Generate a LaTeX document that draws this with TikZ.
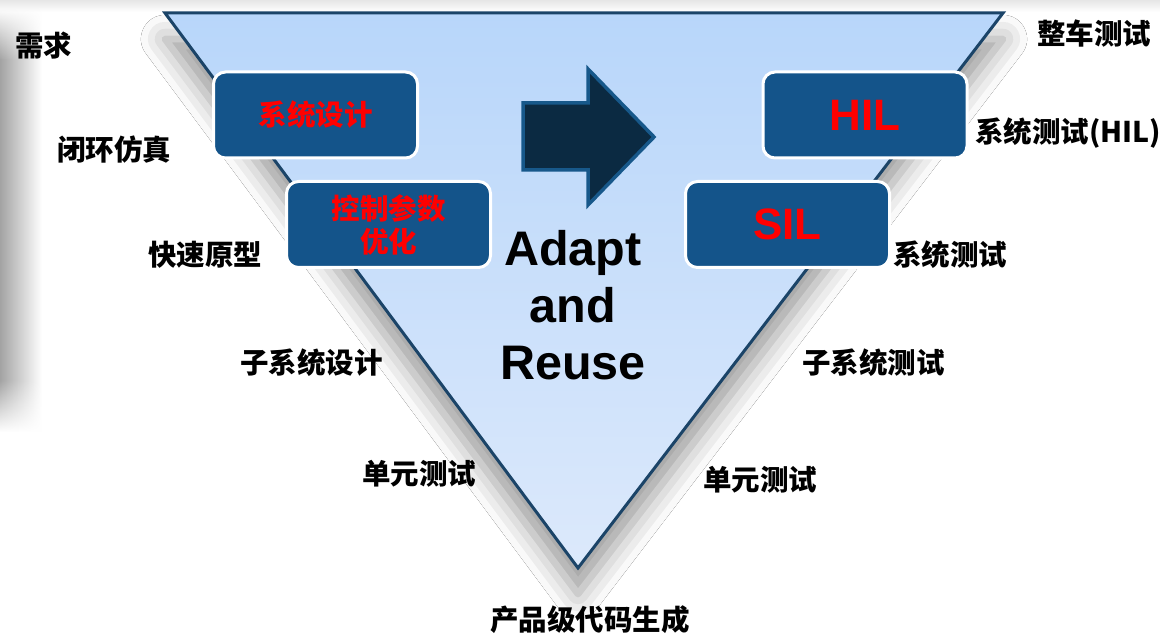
\documentclass[tikz,border=0pt]{standalone}
\usepackage{fontspec}
\setmainfont{Liberation Sans}
\newfontfamily\cjk{Noto Sans CJK SC}
\usetikzlibrary{shadows.blur,fadings}
\definecolor{tritop}{HTML}{B8D6FA}
\definecolor{tribot}{HTML}{DCE9FB}
\definecolor{triedge}{HTML}{1B4468}
\definecolor{boxblue}{HTML}{14548A}
\definecolor{arrowfill}{HTML}{0B2A42}
\definecolor{arrowedge}{HTML}{17588A}
\begin{document}
\begin{tikzpicture}[x=1pt,y=-1pt,
  lbl/.style={font=\cjk\bfseries\fontsize{28.5}{32}\selectfont, text=black, inner sep=0pt, anchor=west},
  vbox/.style={draw=white, line width=3pt, fill=boxblue, rounded corners=12pt,
    minimum width=204pt, minimum height=86pt, text=red, align=center, inner sep=0pt},
  cjkred/.style={vbox, font=\cjk\bfseries\fontsize{28.5}{33}\selectfont},
  latred/.style={vbox, font=\bfseries\fontsize{44}{48}\selectfont},
  bigtxt/.style={font=\bfseries\fontsize{48.5}{57}\selectfont, align=center, text=black, inner sep=0pt},
  strip/.style={left color=black!36, right color=white}]
\useasboundingbox (0,0) rectangle (1160,636);
\fill[white] (0,0) rectangle (1160,636);
% top band and left strip
\shade[top color=black!10, bottom color=white] (0,0) rectangle (1160,12);
\shade[strip, path fading=north] (0,8) rectangle (42,60);
\shade[strip] (0,60) rectangle (42,380);
\shade[strip, path fading=south] (0,380) rectangle (42,432);
% triangle
\coordinate (tl) at (165,13);
\coordinate (tr) at (1003,13);
\coordinate (bt) at (578,568);
\shadedraw[top color=tritop, bottom color=tribot, draw=triedge, line width=3pt, line join=miter,
  blur shadow={shadow xshift=0pt, shadow yshift=-26pt, shadow blur radius=24pt, shadow opacity=40}]
  (tl) -- (tr) -- (bt) -- cycle;
% arrow
\coordinate (a1) at (523,103);
\coordinate (a2) at (588,103);
\coordinate (a3) at (588,69);
\coordinate (a4) at (654,137);
\coordinate (a5) at (588,205);
\coordinate (a6) at (588,170);
\coordinate (a7) at (523,170);
\filldraw[fill=arrowfill, draw=arrowedge, line width=3.5pt, line join=miter]
  (a1) -- (a2) -- (a3) -- (a4) -- (a5) -- (a6) -- (a7) -- cycle;
% boxes
\node[cjkred] (sysdes) at (315.5,115) {系统设计};
\node[cjkred] (ctrl) at (388.5,224.5) {控制参数\\优化};
\node[latred] (hil) at (865,115) {HIL};
\node[latred] (sil) at (787.5,224.5) {SIL};
% centre text
\node[bigtxt] (adapt) at (573,305) {Adapt\\and\\Reuse};
% labels
\node[lbl] (req) at (15,46) {需求};
\node[lbl] (loop) at (57,150) {闭环仿真};
\node[lbl] (rcp) at (148,255) {快速原型};
\node[lbl] (subdes) at (240,363) {子系统设计};
\node[lbl] (unitl) at (362,474) {单元测试};
\node[lbl] (code) at (490,620) {产品级代码生成};
\node[lbl] (unitr) at (703,480) {单元测试};
\node[lbl] (subtest) at (802,363) {子系统测试};
\node[lbl] (systest) at (893,255) {系统测试};
\node[lbl] (hiltest) at (975,133) {系统测试(HIL)};
\node[lbl] (vehicle) at (1037,34) {整车测试};
\end{tikzpicture}
\end{document}
